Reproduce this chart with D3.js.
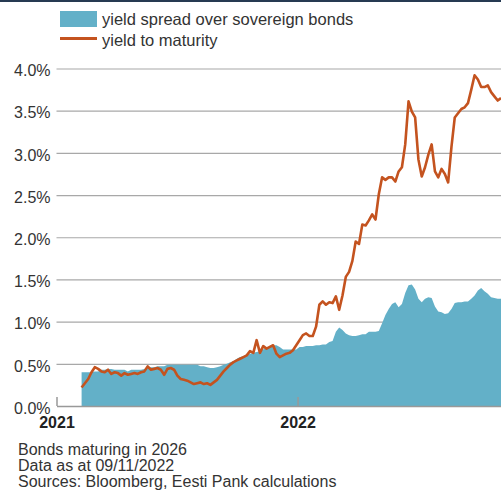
<!DOCTYPE html>
<html>
<head>
<meta charset="utf-8">
<script src="https://cdn.jsdelivr.net/npm/d3@7"></script>
<style>
    body { margin: 0; background: #fff; }
    text { font-family: "Liberation Sans", Arial, Helvetica, sans-serif; }
</style>
</head>
<body>
<div id="chart-area"></div>
<script>

// date grid of the series: one reading every 5 days
const firstDate = "2021-02-08";
const dayStep = 5;

// yield to maturity, %
const ytmValues = [
    0.22, 0.27, 0.32, 0.40, 0.46, 0.44, 0.41, 0.40, 0.43, 0.38,
    0.40, 0.39, 0.36, 0.39, 0.37, 0.38, 0.39, 0.38, 0.40, 0.41,
    0.47, 0.43, 0.44, 0.45, 0.43, 0.37, 0.44, 0.45, 0.43, 0.36,
    0.32, 0.31, 0.30, 0.28, 0.26, 0.27, 0.28, 0.26, 0.27, 0.25,
    0.28, 0.31, 0.36, 0.41, 0.45, 0.49, 0.52, 0.54, 0.56, 0.58,
    0.60, 0.65, 0.63, 0.78, 0.63, 0.71, 0.68, 0.70, 0.72, 0.62,
    0.58, 0.60, 0.62, 0.63, 0.66, 0.72, 0.78, 0.84, 0.86, 0.83,
    0.83, 0.94, 1.20, 1.24, 1.20, 1.23, 1.22, 1.30, 1.14, 1.31,
    1.53, 1.59, 1.72, 1.95, 1.92, 2.15, 2.14, 2.20, 2.27, 2.21,
    2.51, 2.71, 2.68, 2.71, 2.71, 2.66, 2.78, 2.83, 3.10, 3.61,
    3.49, 3.42, 2.92, 2.72, 2.83, 2.98, 3.10, 2.78, 2.71, 2.81,
    2.75, 2.65, 3.07, 3.42, 3.47, 3.52, 3.54, 3.59, 3.75, 3.92,
    3.87, 3.78, 3.78, 3.80, 3.72, 3.67, 3.62, 3.65
];

// yield spread over sovereign bonds, %
const spreadValues = [
    0.40, 0.40, 0.40, 0.40, 0.41, 0.41, 0.43, 0.43, 0.44, 0.44,
    0.43, 0.43, 0.43, 0.43, 0.41, 0.43, 0.43, 0.43, 0.43, 0.44,
    0.46, 0.46, 0.46, 0.47, 0.47, 0.47, 0.49, 0.49, 0.49, 0.49,
    0.49, 0.49, 0.49, 0.49, 0.49, 0.49, 0.47, 0.47, 0.46, 0.45,
    0.45, 0.46, 0.47, 0.49, 0.50, 0.52, 0.53, 0.56, 0.58, 0.59,
    0.60, 0.62, 0.63, 0.64, 0.65, 0.67, 0.70, 0.70, 0.72, 0.72,
    0.70, 0.67, 0.67, 0.67, 0.67, 0.67, 0.70, 0.70, 0.71, 0.71,
    0.71, 0.72, 0.72, 0.73, 0.73, 0.76, 0.77, 0.88, 0.93, 0.90,
    0.86, 0.84, 0.83, 0.83, 0.84, 0.85, 0.85, 0.88, 0.88, 0.88,
    0.89, 0.98, 1.08, 1.15, 1.21, 1.23, 1.17, 1.21, 1.34, 1.43,
    1.44, 1.38, 1.27, 1.23, 1.27, 1.29, 1.28, 1.18, 1.12, 1.11,
    1.09, 1.10, 1.15, 1.22, 1.23, 1.23, 1.24, 1.24, 1.27, 1.31,
    1.37, 1.40, 1.36, 1.33, 1.29, 1.28, 1.27, 1.27
];

const yTicks = [0, 0.5, 1, 1.5, 2, 2.5, 3, 3.5, 4];
const xTicks = ["2021-01-01", "2022-01-01"];
const legendLabels = ["yield spread over sovereign bonds", "yield to maturity"];
const notes = ["Bonds maturing in 2026", "Data as at 09/11/2022", "Sources: Bloomberg, Eesti Pank calculations"];


class YieldChart {

    constructor(parentElement) {
        this.parentElement = parentElement;
        this.displayData = [];

        this.colors = {spread: "#63b0c8", ytm: "#c4531f", grid: "#a8a8a8", text: "#333"};

        this.initVis();
    }

    initVis() {
        let vis = this;

        vis.margin = {top: 68.5, right: 0, bottom: 85, left: 56.5};
        vis.totalWidth = 501;
        vis.totalHeight = 491;
        vis.width = vis.totalWidth - vis.margin.left - vis.margin.right;
        vis.height = 406 - vis.margin.top;

        vis.svg = d3.select("#" + vis.parentElement).append("svg")
            .attr("width", vis.totalWidth)
            .attr("height", vis.totalHeight);

        // dark rule along the top
        vis.svg.append("rect")
            .attr("x", 0).attr("y", 0)
            .attr("width", vis.totalWidth).attr("height", 2)
            .attr("fill", "#263a52");

        vis.g = vis.svg.append("g")
            .attr("transform", `translate(${vis.margin.left}, ${vis.margin.top})`);

        vis.y = d3.scaleLinear()
            .domain([0, 4])
            .range([vis.height, 0]);

        vis.wrangleData();
    }

    wrangleData() {
        let vis = this;

        let start = d3.utcParse("%Y-%m-%d")(firstDate);
        vis.displayData = ytmValues.map((v, i) => ({
            date: d3.utcDay.offset(start, i * dayStep),
            ytm: v,
            spread: spreadValues[i]
        }));

        let lastDate = vis.displayData[vis.displayData.length - 1].date;
        vis.x = d3.scaleUtc()
            .domain([d3.utcParse("%Y-%m-%d")(xTicks[0]), lastDate])
            .range([0, vis.width]);

        vis.updateVis();
    }

    updateVis() {
        let vis = this;

        // y axis with gridlines
        vis.yAxis = vis.g.append("g")
            .attr("class", "y-axis axis")
            .call(d3.axisLeft(vis.y)
                .tickValues(yTicks)
                .tickSize(-vis.width)
                .tickPadding(6)
                .tickFormat(d => d.toFixed(1) + "%"));

        vis.yAxis.select(".domain").remove();
        vis.yAxis.selectAll(".tick line")
            .attr("stroke", vis.colors.grid)
            .attr("stroke-width", 1.2)
            .attr("opacity", d => d === 0 ? 0 : 1);
        vis.yAxis.selectAll(".tick text")
            .attr("fill", vis.colors.text)
            .attr("font-size", 16)
            .attr("dy", "0.45em");

        // spread area
        let area = d3.area()
            .x(d => vis.x(d.date))
            .y0(vis.y(0))
            .y1(d => vis.y(d.spread));

        vis.g.append("path")
            .datum(vis.displayData)
            .attr("fill", vis.colors.spread)
            .attr("d", area);

        // x axis
        let parse = d3.utcParse("%Y-%m-%d");
        vis.xAxis = vis.g.append("g")
            .attr("class", "x-axis axis")
            .attr("transform", `translate(0, ${vis.height})`)
            .call(d3.axisBottom(vis.x)
                .tickValues(xTicks.map(parse))
                .tickSize(-9)
                .tickSizeOuter(0)
                .tickPadding(11)
                .tickFormat(d3.utcFormat("%Y")));

        vis.xAxis.select(".domain")
            .attr("stroke", "#999")
            .attr("stroke-width", 1.5);
        vis.xAxis.selectAll(".tick line")
            .attr("stroke", "#999")
            .attr("stroke-width", 1.5);
        vis.xAxis.selectAll(".tick text")
            .attr("fill", "#222")
            .attr("font-size", 16)
            .attr("font-weight", "bold");

        // yield line
        let line = d3.line()
            .x(d => vis.x(d.date))
            .y(d => vis.y(d.ytm));

        vis.g.append("path")
            .datum(vis.displayData)
            .attr("fill", "none")
            .attr("stroke", vis.colors.ytm)
            .attr("stroke-width", 2.6)
            .attr("stroke-linejoin", "round")
            .attr("d", line);

        // legend
        let legend = vis.svg.append("g").attr("class", "legend");

        legend.append("rect")
            .attr("x", 60).attr("y", 11)
            .attr("width", 37).attr("height", 16)
            .attr("fill", vis.colors.spread);

        legend.append("line")
            .attr("x1", 60).attr("x2", 97)
            .attr("y1", 38.5).attr("y2", 38.5)
            .attr("stroke", vis.colors.ytm)
            .attr("stroke-width", 3);

        legend.selectAll(".legend-label")
            .data(legendLabels)
            .enter()
            .append("text")
            .attr("class", "legend-label")
            .attr("x", 102)
            .attr("y", (d, i) => 25 + i * 20.5)
            .attr("font-size", 16.5)
            .attr("fill", vis.colors.text)
            .text(d => d);

        // notes below the chart
        vis.svg.selectAll(".note")
            .data(notes)
            .enter()
            .append("text")
            .attr("class", "note")
            .attr("x", 18)
            .attr("y", (d, i) => 455 + i * 16)
            .attr("font-size", 16)
            .attr("fill", vis.colors.text)
            .text(d => d);
    }
}

let yieldChart = new YieldChart("chart-area");

</script>
</body>
</html>
